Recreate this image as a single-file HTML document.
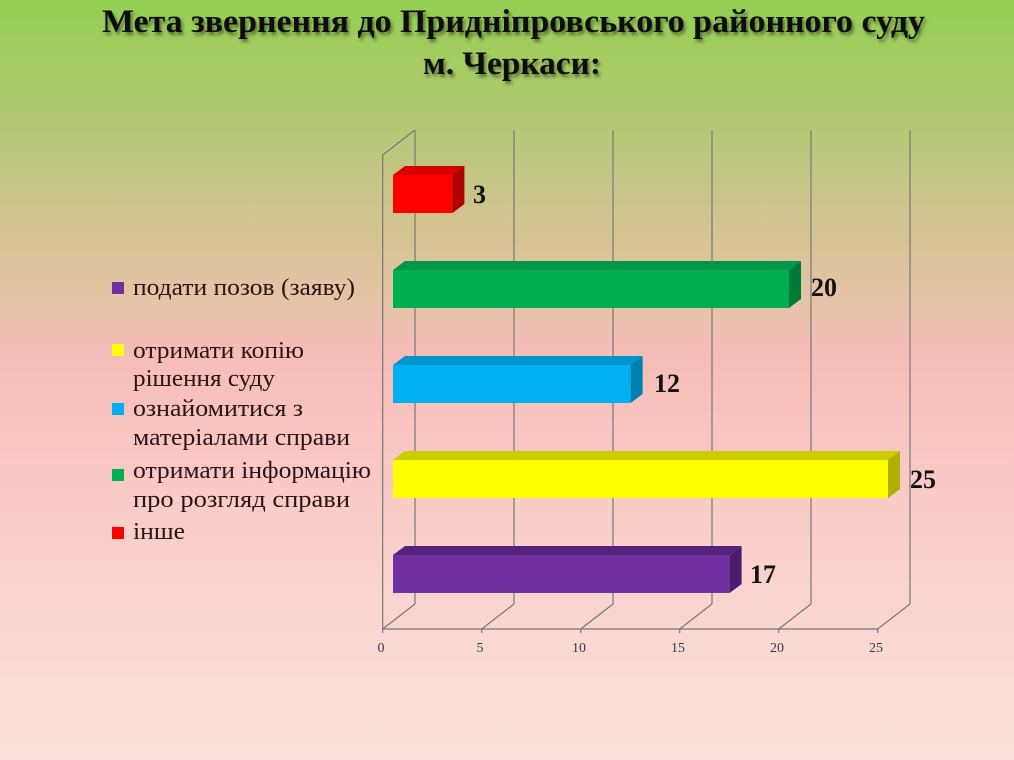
<!DOCTYPE html>
<html>
<head>
<meta charset="utf-8">
<style>
  html, body { margin:0; padding:0; width:1014px; height:760px; overflow:hidden; }
  svg { display:block; }
</style>
</head>
<body>
<svg width="1014" height="760" viewBox="0 0 1014 760" xmlns="http://www.w3.org/2000/svg">
  <defs>
    <linearGradient id="bg" x1="0" y1="0" x2="0" y2="1">
      <stop offset="0" stop-color="#93cf52"/>
      <stop offset="0.10" stop-color="#a8cb66"/>
      <stop offset="0.20" stop-color="#bbc77e"/>
      <stop offset="0.30" stop-color="#d5c392"/>
      <stop offset="0.40" stop-color="#e6c4a8"/>
      <stop offset="0.45" stop-color="#f3bcb5"/>
      <stop offset="0.47" stop-color="#f6bdb8"/>
      <stop offset="0.65" stop-color="#f9cbc6"/>
      <stop offset="0.85" stop-color="#fad8d3"/>
      <stop offset="1" stop-color="#fce2de"/>
    </linearGradient>
    <filter id="sh" x="-5%" y="-30%" width="110%" height="160%">
      <feDropShadow dx="2" dy="3" stdDeviation="1.5" flood-color="#000" flood-opacity="0.45"/>
    </filter>
  </defs>

  <rect x="0" y="0" width="1014" height="760" fill="url(#bg)"/>

  <!-- Title -->
  <g font-family="'Liberation Serif', 'DejaVu Serif', serif" font-weight="bold" font-size="33" fill="#111" filter="url(#sh)">
    <text x="102" y="32" textLength="823" lengthAdjust="spacingAndGlyphs">Мета звернення до Придніпровського районного суду</text>
    <text x="423" y="74" textLength="178" lengthAdjust="spacingAndGlyphs">м. Черкаси:</text>
  </g>

  <!-- Grid / walls -->
  <g stroke="#777" stroke-width="1.2" fill="none">
    <!-- left wall -->
    <line x1="382.7" y1="155" x2="382.7" y2="629"/>
    <line x1="382.7" y1="155" x2="415" y2="130"/>
    <!-- back vertical gridlines -->
    <line x1="415" y1="130" x2="415" y2="604"/>
    <line x1="514" y1="130" x2="514" y2="604"/>
    <line x1="613" y1="130" x2="613" y2="604"/>
    <line x1="712" y1="130" x2="712" y2="604"/>
    <line x1="811" y1="130" x2="811" y2="604"/>
    <line x1="910" y1="130" x2="910" y2="604"/>
    <!-- floor diagonals -->
    <line x1="382.7" y1="629" x2="415" y2="604"/>
    <line x1="481.7" y1="629" x2="514" y2="604"/>
    <line x1="580.7" y1="629" x2="613" y2="604"/>
    <line x1="679.7" y1="629" x2="712" y2="604"/>
    <line x1="778.7" y1="629" x2="811" y2="604"/>
    <line x1="877.7" y1="629" x2="910" y2="604"/>
    <!-- front axis -->
    <line x1="382.7" y1="629" x2="877.7" y2="629"/>
    <!-- ticks -->
    <line x1="382.7" y1="629" x2="382.7" y2="633"/>
    <line x1="481.7" y1="629" x2="481.7" y2="633"/>
    <line x1="580.7" y1="629" x2="580.7" y2="633"/>
    <line x1="679.7" y1="629" x2="679.7" y2="633"/>
    <line x1="778.7" y1="629" x2="778.7" y2="633"/>
    <line x1="877.7" y1="629" x2="877.7" y2="633"/>
  </g>

  <!-- Axis labels -->
  <g font-family="'Liberation Serif', serif" font-size="14" fill="#3a3a3a" text-anchor="middle">
    <text x="381" y="652">0</text>
    <text x="480" y="652">5</text>
    <text x="579" y="652">10</text>
    <text x="678" y="652">15</text>
    <text x="777" y="652">20</text>
    <text x="876" y="652">25</text>
  </g>

  <!-- Bars -->
  <!-- red: 3 -->
  <g>
    <polygon points="393,175 405,166 464.4,166 452.4,175" fill="#d80000"/>
    <polygon points="452.4,175 464.4,166 464.4,204 452.4,213" fill="#b00000"/>
    <rect x="393" y="175" width="59.4" height="38" fill="#ff0000"/>
  </g>
  <!-- green: 20 -->
  <g>
    <polygon points="393,270 405,261 801,261 789,270" fill="#00974a"/>
    <polygon points="789,270 801,261 801,299 789,308" fill="#007a3a"/>
    <rect x="393" y="270" width="396" height="38" fill="#00b050"/>
  </g>
  <!-- blue: 12 -->
  <g>
    <polygon points="393,365 405,356 642.6,356 630.6,365" fill="#0096cc"/>
    <polygon points="630.6,365 642.6,356 642.6,394 630.6,403" fill="#0080b0"/>
    <rect x="393" y="365" width="237.6" height="38" fill="#00b0f0"/>
  </g>
  <!-- yellow: 25 -->
  <g>
    <polygon points="393,460 405,451 900,451 888,460" fill="#cccc00"/>
    <polygon points="888,460 900,451 900,489 888,498" fill="#b0b000"/>
    <rect x="393" y="460" width="495" height="38" fill="#ffff00"/>
  </g>
  <!-- purple: 17 -->
  <g>
    <polygon points="393,555 405,546 741.6,546 729.6,555" fill="#56227e"/>
    <polygon points="729.6,555 741.6,546 741.6,584 729.6,593" fill="#4a1d6c"/>
    <rect x="393" y="555" width="336.6" height="38" fill="#7030a0"/>
  </g>

  <!-- Data labels -->
  <g font-family="'Liberation Serif', serif" font-weight="bold" font-size="26" fill="#111">
    <text x="473" y="203">3</text>
    <text x="811" y="296">20</text>
    <text x="654" y="392">12</text>
    <text x="910" y="488">25</text>
    <text x="750" y="583">17</text>
  </g>

  <!-- Legend -->
  <rect x="112" y="282" width="12" height="12" fill="#7030a0"/>
  <rect x="112" y="344" width="12" height="12" fill="#ffff00"/>
  <rect x="112" y="403" width="12" height="12" fill="#00b0f0"/>
  <rect x="112" y="469" width="12" height="12" fill="#00b050"/>
  <rect x="112" y="527" width="12" height="12" fill="#ff0000"/>
  <g font-family="'Liberation Serif', serif" font-size="24" fill="#2b1414">
    <text x="133" y="295" textLength="222" lengthAdjust="spacingAndGlyphs">подати позов (заяву)</text>
    <text x="133" y="358" textLength="171" lengthAdjust="spacingAndGlyphs">отримати копію</text>
    <text x="133" y="386" textLength="142" lengthAdjust="spacingAndGlyphs">рішення суду</text>
    <text x="133" y="416" textLength="170" lengthAdjust="spacingAndGlyphs">ознайомитися з</text>
    <text x="133" y="445" textLength="217" lengthAdjust="spacingAndGlyphs">матеріалами справи</text>
    <text x="133" y="478" textLength="238" lengthAdjust="spacingAndGlyphs">отримати інформацію</text>
    <text x="133" y="507" textLength="217" lengthAdjust="spacingAndGlyphs">про розгляд справи</text>
    <text x="133" y="539" textLength="52" lengthAdjust="spacingAndGlyphs">інше</text>
  </g>
</svg>
</body>
</html>
